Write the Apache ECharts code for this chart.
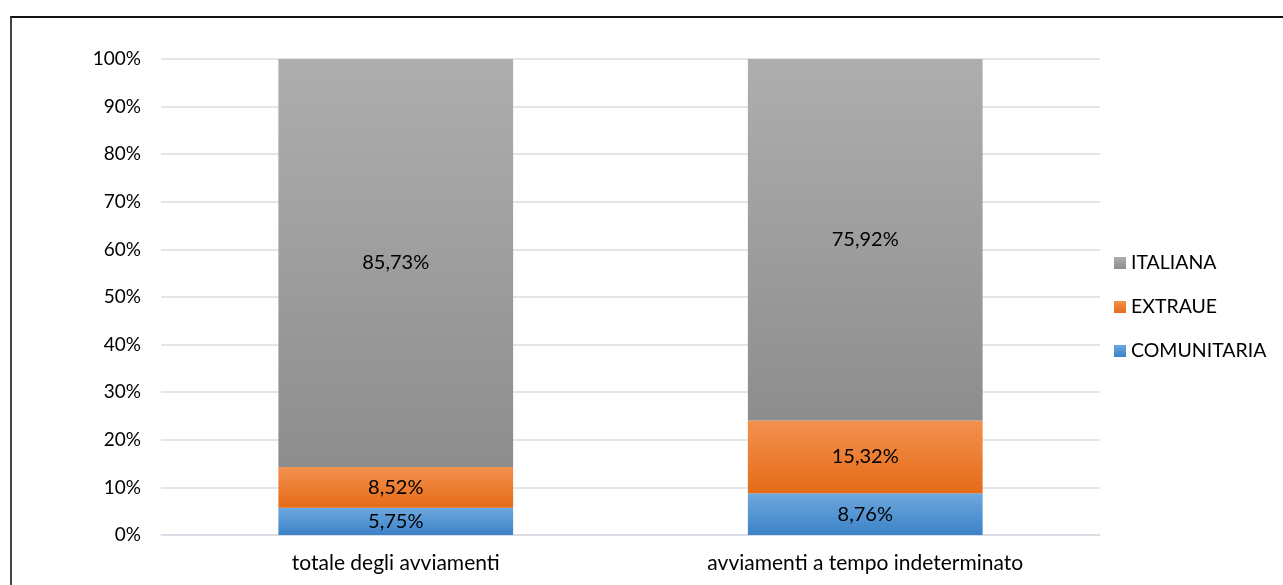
<!DOCTYPE html>
<html>
<head>
<meta charset="utf-8">
<script src="https://cdn.jsdelivr.net/npm/echarts@6/dist/echarts.min.js"></script>
<style>
  html, body { margin: 0; padding: 0; background: #fff; }
  #frame { position: absolute; left: 10px; top: 16px; width: 1290px; height: 600px;
           border-left: 2px solid #444; border-top: 2px solid #111; box-sizing: border-box; }
  #chart { position: absolute; left: 0; top: 0; width: 1283px; height: 585px; }
</style>
</head>
<body>
<div id="frame"></div>
<div id="chart"></div>
<script>
// Categories and shares (percent) per nationality group
const categories = ['totale degli avviamenti', 'avviamenti a tempo indeterminato'];
const comunitaria = [5.75, 8.76];
const extraue = [8.52, 15.32];
const italiana = [85.73, 75.92];
const yTicks = [0, 10, 20, 30, 40, 50, 60, 70, 80, 90, 100];

const fontFamily = 'Lato, "Open Sans", sans-serif';

function grad(top, bottom) {
  return new echarts.graphic.LinearGradient(0, 0, 0, 1, [
    { offset: 0, color: top },
    { offset: 1, color: bottom }
  ]);
}

function fmt(v) {
  return v.toFixed(2).replace('.', ',') + '%';
}

const labelStyle = {
  show: true,
  position: 'inside',
  color: '#000',
  fontSize: 20,
  fontFamily: fontFamily,
  formatter: p => fmt(p.value)
};

const chart = echarts.init(document.getElementById('chart'), null, { renderer: 'canvas' });
chart.setOption({
  animation: false,
  grid: { left: 161, right: 183, top: 59, bottom: 50 },
  legend: {
    orient: 'vertical',
    left: 1109,
    top: 248,
    itemGap: 24,
    itemWidth: 12,
    itemHeight: 12,
    icon: 'rect',
    textStyle: { fontSize: 19.5, lineHeight: 20, fontFamily: fontFamily, color: '#000' },
    data: ['ITALIANA', 'EXTRAUE', 'COMUNITARIA']
  },
  xAxis: {
    type: 'category',
    data: categories,
    axisLine: { show: true, lineStyle: { color: '#d9dde3', width: 1.5 } },
    axisTick: { show: false },
    axisLabel: { color: '#000', fontSize: 21, fontFamily: fontFamily, margin: 18 }
  },
  yAxis: {
    type: 'value',
    min: yTicks[0],
    max: yTicks[yTicks.length - 1],
    interval: 10,
    axisLine: { show: false },
    axisTick: { show: false },
    splitLine: { lineStyle: { color: '#d9dde3', width: 1.5 } },
    axisLabel: { color: '#000', fontSize: 19, fontFamily: fontFamily, margin: 20, formatter: '{value}%' }
  },
  series: [
    {
      name: 'COMUNITARIA', type: 'bar', stack: 'tot', barWidth: '50%',
      data: comunitaria,
      itemStyle: { color: grad('#6ea8de', '#3c82c8') },
      label: labelStyle
    },
    {
      name: 'EXTRAUE', type: 'bar', stack: 'tot',
      data: extraue,
      itemStyle: { color: grad('#f3914f', '#e56b17') },
      label: labelStyle
    },
    {
      name: 'ITALIANA', type: 'bar', stack: 'tot',
      data: italiana,
      itemStyle: { color: grad('#aeaeae', '#8d8d8d') },
      label: labelStyle
    }
  ]
});
</script>
</body>
</html>
